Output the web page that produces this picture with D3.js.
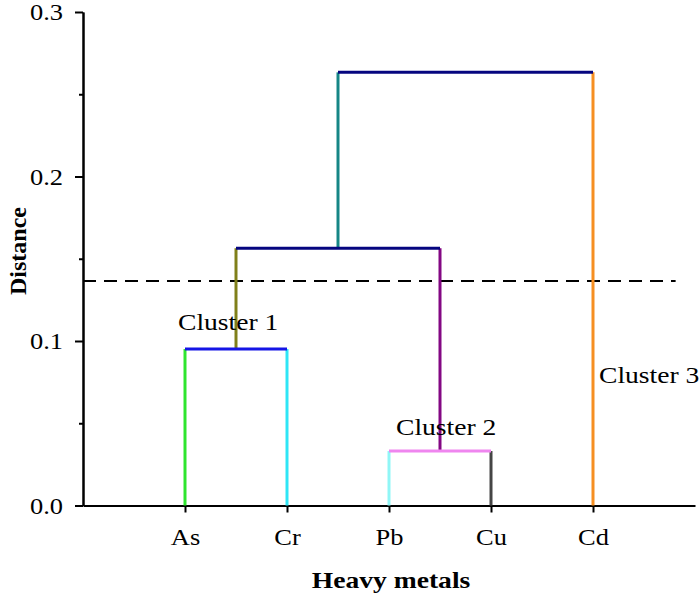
<!DOCTYPE html>
<html>
<head>
<meta charset="utf-8">
<script src="https://cdn.jsdelivr.net/npm/d3@7"></script>
<style>
  body { margin: 0; background: #fff; }
</style>
</head>
<body>
<div id="chart"></div>
<script>
var fontFamily = "'Liberation Serif'";
var stretch = 1.15;   // the original figure is a bit wider than tall

// leaves in plotting order
var metals = ["As", "Cr", "Pb", "Cu", "Cd"];

// merges: [left child, right child], joined at height
var mergeIds = ["m0", "m1", "m2", "m3"];
var mergePairs = [["Pb", "Cu"], ["As", "Cr"], ["m1", "m0"], ["m2", "Cd"]];
var mergeHeights = [0.0331, 0.0951, 0.1564, 0.2633];

var cutHeight = 0.1365;

var majorTicks = [0.0, 0.1, 0.2, 0.3];
var minorTicks = [0.05, 0.15, 0.25];

var clusterNames = ["Cluster 1", "Cluster 2", "Cluster 3"];

// colour of the vertical stem above each node, and of each merge bar
var stemColors = {
    As: "#2fe52f", Cr: "#2ee6f6", Pb: "#90f6f6", Cu: "#454545", Cd: "#f68f22",
    m0: "#830783", m1: "#80801a", m2: "#158686"
};
var barColors = ["#ef86ef", "#1515e6", "#05057f", "#05057f"];

var width = 700, height = 597;
var margin = {left: 83, right: 5, top: 12, bottom: 91.5};

var svg = d3.select("#chart")
    .append("svg")
    .attr("width", width)
    .attr("height", height);

var x = d3.scaleLinear()
    .domain([0, 6])
    .range([margin.left, width - margin.right]);

var y = d3.scaleLinear()
    .domain([0, 0.3])
    .range([height - margin.bottom, margin.top]);

// put a text at (px, py), widened horizontally
function addText(px, py, str, size, weight, anchor){
    return svg.append("text")
        .attr("transform", "translate(" + px + "," + py + ") scale(" + stretch + ",1)")
        .attr("text-anchor", anchor || "start")
        .style("font-family", fontFamily)
        .style("font-size", size + "px")
        .style("font-weight", weight || "normal")
        .attr("fill", "#000")
        .text(str);
}

// node positions
var pos = {};
metals.forEach(function(m, i){
    pos[m] = {x: i + 1, h: 0};
});
mergeIds.forEach(function(id, i){
    var a = pos[mergePairs[i][0]], b = pos[mergePairs[i][1]];
    pos[id] = {x: (a.x + b.x) / 2, h: mergeHeights[i]};
});

var stems = [], bars = [];
mergeIds.forEach(function(id, i){
    mergePairs[i].forEach(function(c){
        stems.push({x1: pos[c].x, y1: pos[c].h, x2: pos[c].x, y2: mergeHeights[i], color: stemColors[c]});
    });
    bars.push({x1: pos[mergePairs[i][0]].x, y1: mergeHeights[i], x2: pos[mergePairs[i][1]].x, y2: mergeHeights[i], color: barColors[i]});
});

// axes
var yAxis = svg.append("g")
    .attr("transform", "translate(" + margin.left + ",0)")
    .call(d3.axisLeft(y).tickValues(majorTicks).tickFormat(d3.format(".1f")).tickSize(8).tickSizeOuter(0));

svg.append("g")
    .attr("transform", "translate(" + margin.left + ",0)")
    .call(d3.axisLeft(y).tickValues(minorTicks).tickFormat("").tickSize(4).tickSizeOuter(0));

var xAxis = svg.append("g")
    .attr("transform", "translate(0," + y(0) + ")")
    .call(d3.axisBottom(x).tickValues(d3.range(1, metals.length + 1))
        .tickFormat(function(d){ return metals[d - 1]; })
        .tickSize(7).tickSizeOuter(0));

svg.selectAll(".domain").attr("stroke", "#000").attr("stroke-width", 2);
svg.selectAll(".tick line").attr("stroke", "#000").attr("stroke-width", 2);

yAxis.selectAll(".tick text")
    .style("font-family", fontFamily)
    .style("font-size", "23px")
    .attr("fill", "#000")
    .attr("x", -20 / stretch)
    .attr("dy", "0.34em")
    .attr("transform", "scale(" + stretch + ",1)");

xAxis.selectAll(".tick text")
    .style("font-family", fontFamily)
    .style("font-size", "23px")
    .attr("fill", "#000")
    .attr("y", 39.5)
    .attr("dy", 0)
    .attr("transform", "scale(" + stretch + ",1)");

// cut line
svg.append("line")
    .attr("x1", x(0)).attr("x2", x(5.81))
    .attr("y1", y(cutHeight)).attr("y2", y(cutHeight))
    .attr("stroke", "#000")
    .attr("stroke-width", 2)
    .attr("stroke-dasharray", "13,8");

// dendrogram: stems first, bars on top
svg.selectAll("line.seg")
    .data(stems.concat(bars))
    .enter()
    .append("line")
    .attr("class", "seg")
    .attr("x1", function(d){ return x(d.x1); })
    .attr("y1", function(d){ return y(d.y1); })
    .attr("x2", function(d){ return x(d.x2); })
    .attr("y2", function(d){ return y(d.y2); })
    .attr("stroke", function(d){ return d.color; })
    .attr("stroke-width", 3);

// cluster labels
addText(x(pos.m1.x) - 58, y(pos.m1.h) - 19, clusterNames[0], 24);
addText(x(pos.m0.x) - 44, y(pos.m0.h) - 16, clusterNames[1], 24);
addText(x(pos.Cd.x) + 6, y(0.0745), clusterNames[2], 24);

// axis titles
addText(391, 588, "Heavy metals", 24, "bold", "middle");

svg.append("text")
    .attr("transform", "translate(26,251) rotate(-90)")
    .attr("text-anchor", "middle")
    .style("font-family", fontFamily)
    .style("font-size", "24px")
    .style("font-weight", "bold")
    .text("Distance");
</script>
</body>
</html>
